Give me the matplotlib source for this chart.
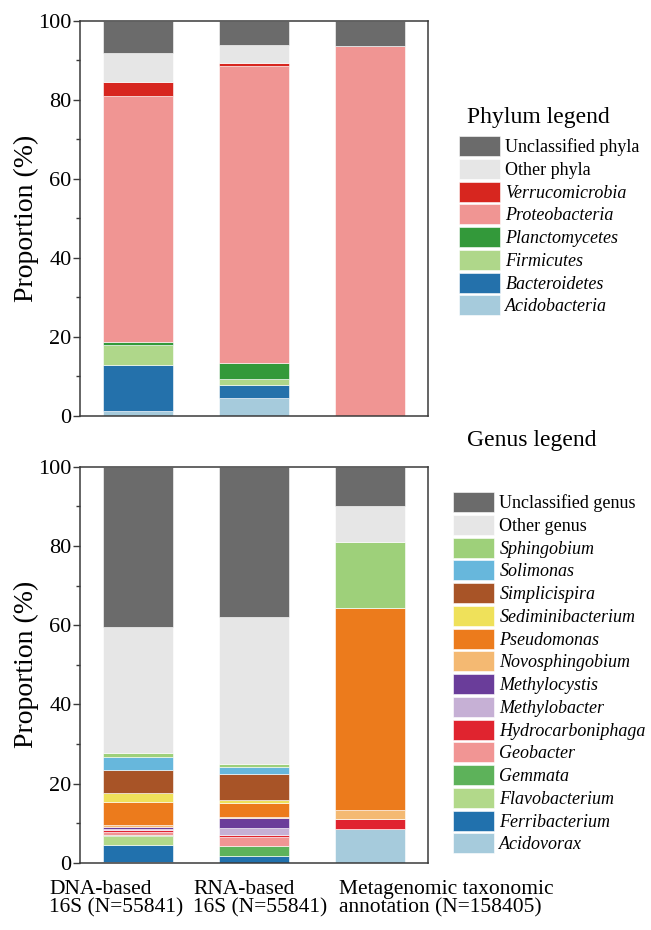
import matplotlib
matplotlib.use("Agg")
import numpy as np
import matplotlib.pyplot as plt

plt.rcParams["font.family"] = ["Liberation Serif", "DejaVu Serif"]

SAMPLES = ["DNA-based\n16S (N=55841)", "RNA-based\n16S (N=55841)",
           "Metagenomic taxonomic\nannotation (N=158405)"]

# phylum level, stacked from the bottom up
PHYLA = ["Acidobacteria", "Bacteroidetes", "Firmicutes", "Planctomycetes",
         "Proteobacteria", "Verrucomicrobia", "Other phyla", "Unclassified phyla"]
acidobacteria = [1.2, 4.6, 0]
bacteroidetes = [11.8, 3.2, 0]
firmicutes = [4.9, 1.5, 0]
planctomycetes = [0.7, 4.0, 0]
proteobacteria = [62.4, 75.3, 93.7]
verrucomicrobia = [3.4, 0.7, 0]
other_phyla = [7.4, 4.5, 0]
unclassified_phyla = [8.2, 6.2, 6.3]
PHYLUM_VALUES = [acidobacteria, bacteroidetes, firmicutes, planctomycetes,
                 proteobacteria, verrucomicrobia, other_phyla, unclassified_phyla]
PHYLUM_COLORS = ["#a6cbdc", "#2471ab", "#afd78a", "#33993a",
                 "#f09593", "#d7261f", "#e6e6e6", "#6b6b6b"]

# genus level, stacked from the bottom up
GENERA = ["Acidovorax", "Ferribacterium", "Flavobacterium", "Gemmata", "Geobacter",
          "Hydrocarboniphaga", "Methylobacter", "Methylocystis", "Novosphingobium",
          "Pseudomonas", "Sediminibacterium", "Simplicispira", "Solimonas",
          "Sphingobium", "Other genus", "Unclassified genus"]
acidovorax = [0.25, 0, 8.4]
ferribacterium = [4.2, 1.8, 0]
flavobacterium = [2.2, 0, 0]
gemmata = [0.4, 2.5, 0]
geobacter = [0.7, 2.2, 0]
hydrocarboniphaga = [0.5, 0.4, 2.6]
methylobacter = [0.35, 1.9, 0]
methylocystis = [0.4, 2.6, 0]
novosphingobium = [0.5, 0.2, 2.3]
pseudomonas = [5.9, 3.5, 50.9]
sediminibacterium = [2.3, 0.7, 0]
simplicispira = [5.8, 6.6, 0]
solimonas = [3.3, 1.8, 0]
sphingobium = [0.9, 0.7, 16.7]
other_genus = [31.7, 37.1, 9.2]
unclassified_genus = [40.6, 38.0, 9.9]
GENUS_VALUES = [acidovorax, ferribacterium, flavobacterium, gemmata, geobacter,
                hydrocarboniphaga, methylobacter, methylocystis, novosphingobium,
                pseudomonas, sediminibacterium, simplicispira, solimonas,
                sphingobium, other_genus, unclassified_genus]
GENUS_COLORS = ["#a6cbdc", "#2171ad", "#b2d98a", "#5db25a", "#f19594",
                "#e0242f", "#c6b0d5", "#6a3d9a", "#f4b972",
                "#ec7b1c", "#efe15a", "#a85427", "#67b7dc",
                "#9ed07a", "#e6e6e6", "#6b6b6b"]

W, H = 651, 930
SPINE = "#3a3a3a"


def stacked(ax, names, values, colors):
    x = np.arange(len(SAMPLES))
    bottom = np.zeros(len(SAMPLES))
    handles = []
    for name, vals, col in zip(names, values, colors):
        vals = np.array(vals, dtype=float)
        b = ax.bar(x, vals, 0.61, bottom=bottom, color=col,
                   edgecolor="white", linewidth=0.4, label=name)
        handles.append(b)
        bottom += vals
    ax.set_xlim(-0.5, 2.5)
    ax.set_ylim(0, 100)
    ax.set_xticks([])
    ax.set_yticks(np.arange(0, 101, 20))
    ax.set_yticks(np.arange(10, 100, 20), minor=True)
    ax.tick_params(axis="y", which="major", length=5, width=1.0, pad=1,
                   labelsize=16, color=SPINE)
    ax.tick_params(axis="y", which="minor", length=3, width=1.0, color=SPINE)
    for s in ax.spines.values():
        s.set_color(SPINE)
        s.set_linewidth(1.1)
    ax.set_ylabel("Proportion (%)", fontsize=20)
    ax.yaxis.set_label_coords(-0.118, 0.5)
    return handles


def legend(fig, handles, names, x_px, y_px):
    plain = ("Unclassified", "Other")
    leg = fig.legend(handles[::-1], names[::-1], loc="upper left",
                     bbox_to_anchor=(x_px / W, 1 - y_px / H),
                     frameon=False, fontsize=13, borderpad=0,
                     borderaxespad=0, handlelength=2.27, handleheight=1.33,
                     handletextpad=0.3, labelspacing=0.15)
    for t in leg.get_texts():
        if not t.get_text().startswith(plain):
            t.set_fontstyle("italic")
    return leg


fig = plt.figure(figsize=(W / 100, H / 100), dpi=100)
ax1 = fig.add_axes([80 / W, 1 - 416 / H, 348 / W, 395.3 / H])
ax2 = fig.add_axes([80 / W, 1 - 862.7 / H, 348 / W, 396 / H])

h1 = stacked(ax1, PHYLA, PHYLUM_VALUES, PHYLUM_COLORS)
h2 = stacked(ax2, GENERA, GENUS_VALUES, GENUS_COLORS)

fig.text(467 / W, 1 - 117 / H, "Phylum legend", fontsize=17, va="center")
fig.text(467 / W, 1 - 440 / H, "Genus legend", fontsize=17, va="center")
legend(fig, h1, PHYLA, 459, 136)
legend(fig, h2, GENERA, 453, 492)

# sample labels below the lower panel
for label, xl in zip(SAMPLES, [49, 193, 339]):
    fig.text(xl / W, 1 - 880 / H, label, fontsize=15.5, ha="left", va="top",
             linespacing=0.95)

fig.savefig("out.png", dpi=100)
